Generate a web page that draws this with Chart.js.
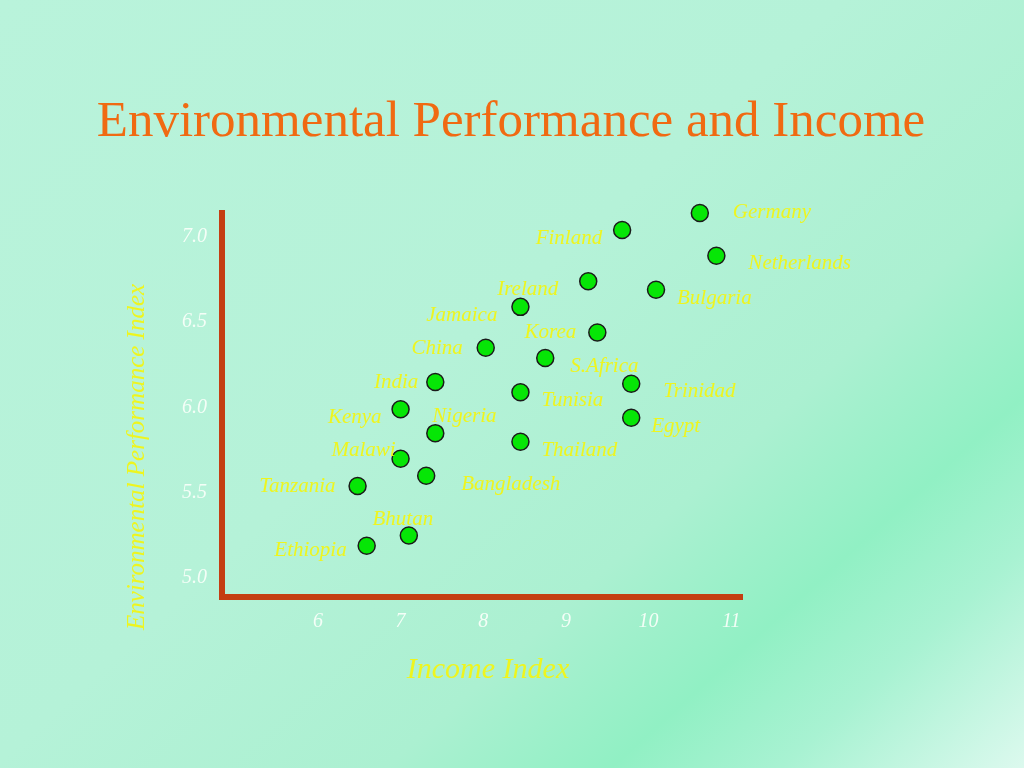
<!DOCTYPE html>
<html>
<head>
<meta charset="utf-8">
<title>Environmental Performance and Income</title>
<script src="https://cdn.jsdelivr.net/npm/chart.js@4.4.1/dist/chart.umd.min.js"></script>
<style>
html, body { margin: 0; padding: 0; }
body {
    width: 1024px;
    height: 768px;
    overflow: hidden;
    background: linear-gradient(138deg, #b9f3db 0%, #b5f2d8 45%, #abf0d1 66%, #91f0c4 78%, #a8f2d2 87%, #dcf9ee 100%);
}
#wrap { position: relative; width: 1024px; height: 768px; }
</style>
</head>
<body>
<div id="wrap"><canvas id="chart"></canvas></div>
<script>
var countries = ["Germany", "Finland", "Netherlands", "Ireland", "Bulgaria", "Jamaica", "Korea",
    "China", "S.Africa", "India", "Trinidad", "Tunisia", "Kenya", "Egypt", "Nigeria",
    "Thailand", "Malawi", "Bangladesh", "Tanzania", "Bhutan", "Ethiopia"];
var income = [10.62, 9.68, 10.82, 9.27, 10.09, 8.45, 9.38,
    8.03, 8.75, 7.42, 9.79, 8.45, 7.00, 9.79, 7.42,
    8.45, 7.00, 7.31, 6.48, 7.10, 6.59];
var envIndex = [7.14, 7.04, 6.89, 6.74, 6.69, 6.59, 6.44,
    6.35, 6.29, 6.15, 6.14, 6.09, 5.99, 5.94, 5.85,
    5.80, 5.70, 5.60, 5.54, 5.25, 5.19];
var xTicks = [6, 7, 8, 9, 10, 11];
var yTicks = [5.0, 5.5, 6.0, 6.5, 7.0];

var titleText = "Environmental Performance and Income";
var xTitle = "Income Index";
var yTitle = "Environmental Performance Index";

// where each country name sits next to its dot: [align, dx, dy]
var labelPlace = {
    "Germany": ["left", 33, 5], "Finland": ["right", -20, 14], "Netherlands": ["left", 32, 13],
    "Ireland": ["right", -30, 14], "Bulgaria": ["left", 21, 14], "Jamaica": ["right", -23, 14],
    "Korea": ["right", -21, 6], "China": ["right", -23, 6], "S.Africa": ["left", 25, 14],
    "India": ["right", -17, 6], "Trinidad": ["left", 32, 13], "Tunisia": ["left", 21, 14],
    "Kenya": ["right", -19, 14], "Egypt": ["left", 20, 14], "Nigeria": ["left", -3, -11],
    "Thailand": ["left", 21, 14], "Malawi": ["right", -5, -3], "Bangladesh": ["left", 35, 14],
    "Tanzania": ["right", -22, 6], "Bhutan": ["center", -6, -11], "Ethiopia": ["right", -20, 10]
};

var axisColor = "#c43e12";
var labelColor = "#eef51e";
var tickColor = "rgba(250,255,250,0.92)";
var serif = '"Liberation Serif", "Times New Roman", serif';

var points = [];
for (let i = 0; i < countries.length; i++) {
    points.push({ x: income[i], y: envIndex[i] });
}

var slideText = {
    id: "slideText",
    afterDatasetsDraw: function(chart) {
        var ctx = chart.ctx;
        var meta = chart.getDatasetMeta(0);
        ctx.save();
        ctx.fillStyle = labelColor;
        ctx.font = "italic 21px " + serif;
        ctx.textBaseline = "alphabetic";
        meta.data.forEach(function(pt, i) {
            var p = labelPlace[countries[i]] || ["left", 14, 6];
            ctx.textAlign = p[0];
            ctx.fillText(countries[i], pt.x + p[1], pt.y + p[2]);
        });
        ctx.restore();
    },
    afterDraw: function(chart) {
        var ctx = chart.ctx;
        var area = chart.chartArea;
        ctx.save();
        ctx.textBaseline = "alphabetic";

        ctx.fillStyle = "#f06a12";
        ctx.font = "51px " + serif;
        ctx.textAlign = "center";
        ctx.fillText(titleText, chart.width / 2 - 1, 136);

        ctx.fillStyle = labelColor;
        ctx.font = "italic 30px " + serif;
        ctx.fillText(xTitle, (area.left + area.right) / 2 + 6, area.bottom + 81);

        ctx.font = "italic 25px " + serif;
        ctx.translate(area.left - 78, (area.top + area.bottom) / 2 + 52);
        ctx.rotate(-Math.PI / 2);
        ctx.fillText(yTitle, 0, 0);
        ctx.restore();
    }
};

var chart = new Chart(document.getElementById("chart"), {
    type: "scatter",
    data: {
        datasets: [{
            label: "Countries",
            data: points,
            backgroundColor: "#06e606",
            borderColor: "#1a1a1a",
            borderWidth: 1.5,
            pointRadius: 8.5,
            pointHoverRadius: 8.5,
            clip: false
        }]
    },
    options: {
        responsive: true,
        maintainAspectRatio: false,
        animation: false,
        events: [],
        layout: { padding: { top: 213, right: 282, left: 0, bottom: 0 } },
        plugins: {
            legend: { display: false },
            tooltip: { enabled: false },
            title: { display: false }
        },
        scales: {
            x: {
                type: "linear",
                min: 4.84,
                max: 11.13,
                afterBuildTicks: function(scale) {
                    scale.ticks = xTicks.map(function(v) { return { value: v }; });
                },
                afterFit: function(scale) { scale.height = 171; },
                grid: { display: false, drawTicks: false },
                border: { display: true, color: axisColor, width: 6 },
                ticks: {
                    color: tickColor,
                    padding: 13,
                    font: { family: serif, style: "italic", size: 20 },
                    callback: function(v) { return v; }
                }
            },
            y: {
                type: "linear",
                min: 4.89,
                max: 7.14,
                afterBuildTicks: function(scale) {
                    scale.ticks = yTicks.map(function(v) { return { value: v }; });
                },
                afterFit: function(scale) { scale.width = 222; },
                grid: { display: false, drawTicks: false },
                border: { display: true, color: axisColor, width: 6 },
                ticks: {
                    color: tickColor,
                    padding: 15,
                    font: { family: serif, style: "italic", size: 20 },
                    callback: function(v) { return Number(v).toFixed(1); }
                }
            }
        }
    },
    plugins: [slideText]
});
</script>
</body>
</html>
